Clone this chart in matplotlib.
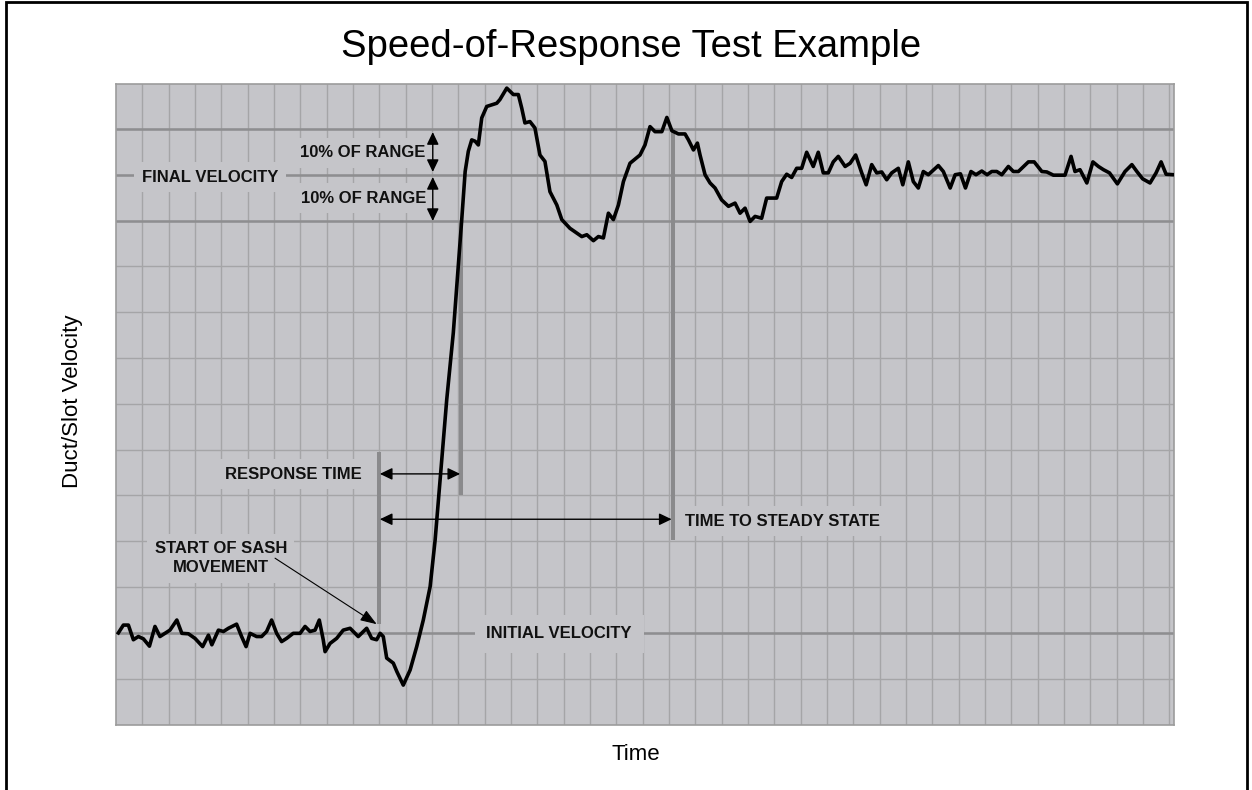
import matplotlib
matplotlib.use("Agg")
import matplotlib.pyplot as plt
from matplotlib.patches import Rectangle

# ---------------- data (grid units) ----------------
time = [0.09, 0.28, 0.47, 0.66, 0.85, 1.04, 1.27, 1.48, 1.67, 1.86,
        2.05, 2.31, 2.50, 2.75, 3.00, 3.29, 3.51, 3.64, 3.89, 4.08,
        4.27, 4.58, 4.77, 4.94, 5.09, 5.34, 5.53, 5.72, 5.91, 6.10,
        6.29, 6.48, 6.73, 6.99, 7.18, 7.37, 7.56, 7.72, 7.87, 7.94,
        8.13, 8.38, 8.63, 8.89, 9.20, 9.52, 9.71, 9.90, 10.03, 10.15,
        10.28, 10.53, 10.67, 10.91, 11.17, 11.42, 11.67, 11.93, 12.12, 12.31,
        12.56, 12.81, 13.00, 13.13, 13.26, 13.38, 13.51, 13.64, 13.76, 13.89,
        14.08, 14.46, 14.58, 14.84, 15.09, 15.28, 15.41, 15.53, 15.72, 15.91,
        16.10, 16.29, 16.48, 16.74, 16.93, 17.24, 17.69, 17.88, 18.13, 18.32,
        18.51, 18.70, 18.89, 19.08, 19.27, 19.52, 19.90, 20.09, 20.28, 20.47,
        20.73, 20.92, 21.11, 21.36, 21.61, 21.74, 21.93, 22.08, 22.18, 22.37,
        22.56, 22.75, 23.00, 23.26, 23.51, 23.70, 23.89, 24.08, 24.27, 24.52,
        24.71, 25.09, 25.28, 25.47, 25.66, 25.85, 26.04, 26.23, 26.48, 26.67,
        26.86, 27.05, 27.24, 27.43, 27.69, 27.88, 28.09, 28.32, 28.49, 28.70,
        28.89, 29.08, 29.27, 29.46, 29.71, 29.88, 30.09, 30.28, 30.47, 30.66,
        30.85, 31.23, 31.42, 31.68, 31.87, 32.07, 32.26, 32.47, 32.66, 32.88,
        33.08, 33.26, 33.45, 33.64, 33.89, 34.08, 34.27, 34.65, 34.87, 35.16,
        35.35, 35.60, 36.04, 36.27, 36.42, 36.61, 36.87, 37.10, 37.31, 37.50,
        37.73, 38.03, 38.32, 38.58, 38.77, 38.99, 39.27, 39.50, 39.69, 39.88,
        40.16]

velocity = [2.00, 2.17, 2.17, 1.85, 1.92, 1.87, 1.71, 2.14, 1.92, 1.99,
            2.06, 2.28, 1.99, 1.98, 1.88, 1.70, 1.95, 1.74, 2.06, 2.03,
            2.10, 2.19, 1.92, 1.70, 1.99, 1.92, 1.92, 2.03, 2.28, 1.99,
            1.81, 1.88, 1.99, 1.99, 2.14, 2.03, 2.06, 2.28, 1.85, 1.59,
            1.77, 1.88, 2.06, 2.10, 1.92, 2.10, 1.88, 1.85, 1.99, 1.92,
            1.45, 1.34, 1.15, 0.86, 1.19, 1.70, 2.28, 3.01, 4.03, 5.34,
            7.09, 8.55, 10.00, 11.02, 12.07, 12.51, 12.76, 12.73, 12.65, 13.24,
            13.49, 13.56, 13.64, 13.89, 13.75, 13.75, 13.45, 13.13, 13.16, 13.02,
            12.43, 12.29, 11.63, 11.34, 11.02, 10.83, 10.65, 10.69, 10.56, 10.65,
            10.62, 11.16, 11.02, 11.34, 11.85, 12.25, 12.43, 12.65, 13.05, 12.94,
            12.94, 13.25, 12.96, 12.89, 12.89, 12.76, 12.54, 12.69, 12.43, 12.00,
            11.82, 11.71, 11.45, 11.31, 11.38, 11.16, 11.27, 10.98, 11.09, 11.05,
            11.49, 11.49, 11.85, 12.01, 11.94, 12.14, 12.14, 12.49, 12.18, 12.49,
            12.04, 12.04, 12.28, 12.40, 12.18, 12.25, 12.43, 12.04, 11.78, 12.22,
            12.04, 12.06, 11.89, 12.04, 12.14, 11.78, 12.28, 11.85, 11.71, 12.07,
            12.00, 12.20, 12.07, 11.71, 12.00, 12.02, 11.71, 12.07, 12.00, 12.08,
            12.00, 12.07, 12.07, 12.00, 12.18, 12.07, 12.07, 12.28, 12.28, 12.07,
            12.06, 11.99, 11.99, 12.40, 12.07, 12.11, 11.82, 12.28, 12.18, 12.11,
            12.04, 11.80, 12.07, 12.22, 12.07, 11.91, 11.82, 12.04, 12.28, 12.01,
            12.00]

initial_velocity = 2.0
final_velocity = 12.0
band = 1.0                 # 10 % of range
sash_start = 10.0
response_end = 13.1
steady_state = 21.15

title = "Speed-of-Response Test Example"
x_label = "Time"
y_label = "Duct/Slot Velocity"

# ---------------- figure ----------------
W, H = 1252, 790
fig = plt.figure(figsize=(W / 100, H / 100), dpi=100)
fig.patch.set_facecolor("white")

left, right, top, bottom = 116, 1174, 84, 724.5
ax = fig.add_axes([left / W, 1 - bottom / H, (right - left) / W, (bottom - top) / H])
bg = "#c5c5c9"
ax.set_facecolor(bg)
ax.set_xlim(0, 40.18)
ax.set_ylim(0, 13.98)
ax.set_xticks(range(1, 41))
ax.set_yticks(range(1, 14))
ax.tick_params(length=0, labelbottom=False, labelleft=False)
ax.grid(True, color="#a5a5a7", lw=1.0)
for sp in ax.spines.values():
    sp.set_color("#9c9c9c")
    sp.set_linewidth(1.2)

ref_col = "#8e8e90"
for yv in (initial_velocity, final_velocity - band, final_velocity, final_velocity + band):
    ax.axhline(yv, color=ref_col, lw=1.8, zorder=1.8)

# vertical markers
mk = "#8a8a8c"
ax.vlines(sash_start, 2.2, 5.95, color=mk, lw=2.9, zorder=2)
ax.vlines(response_end, 5.0, 11.0, color=mk, lw=2.9, zorder=2)
ax.vlines(steady_state, 4.03, 12.95, color=mk, lw=2.9, zorder=2)

# curve
ax.plot(time, velocity, color="black", lw=2.6, solid_joinstyle="round", zorder=4)

FONT = ["Liberation Sans", "DejaVu Sans"]
lab = dict(fontsize=12, fontweight="bold", family=FONT, color="#111111",
           ha="center", va="center", zorder=3)


def boxed(x, y, s, pad=0.45, **kw):
    d = dict(lab)
    d.update(kw)
    ax.text(x, y, s, bbox=dict(boxstyle=f"square,pad={pad}", fc=bg, ec="none"), **d)


boxed(3.57, final_velocity - 0.06, "FINAL VELOCITY")
boxed(9.36, 12.48, "10% OF RANGE")
boxed(9.40, 11.49, "10% OF RANGE")
boxed(6.75, 5.46, "RESPONSE TIME")
boxed(3.98, 3.63, "START OF SASH\nMOVEMENT", linespacing=1.35)
boxed(16.83, initial_velocity - 0.02, "INITIAL VELOCITY", pad=0.7)
boxed(21.62, 4.44, "TIME TO STEADY STATE", ha="left")


def darrow(x0, y0, x1, y1, style="<|-|>", lw=1.0, hl=0.75, hw=0.36):
    ax.annotate("", xy=(x1, y1), xytext=(x0, y0), zorder=5,
                arrowprops=dict(arrowstyle=f"{style},head_length={hl},head_width={hw}",
                                color="black", lw=lw, shrinkA=0, shrinkB=0,
                                mutation_scale=10))


arrow_x = 12.03
darrow(arrow_x, 12.06, arrow_x, 12.93)
darrow(arrow_x, 10.99, arrow_x, 11.95)
darrow(sash_start + 0.02, 5.47, response_end - 0.03, 5.47)
darrow(sash_start + 0.02, 4.48, steady_state - 0.05, 4.48)
darrow(6.04, 3.63, 9.90, 2.19, style="-|>", lw=0.8, hl=1.0, hw=0.36)

# titles and axis labels
fig.text(631 / W, 1 - 47 / H, title, ha="center", va="center", fontsize=27.5,
         family=FONT, color="black")
fig.text(635.5 / W, 1 - 755 / H, x_label, ha="center", va="center", fontsize=16,
         family=FONT, color="black")
fig.text(72.7 / W, 1 - 400.8 / H, y_label, ha="center", va="center", fontsize=16,
         rotation=90, family=FONT, color="black")

# outer frame
fig.patches.append(Rectangle((6 / W, -0.02), (1247 - 6) / W, (1 - 2 / H) + 0.02,
                             transform=fig.transFigure, fill=False, ec="black", lw=2.0))

fig.savefig("out.png", dpi=100, facecolor="white")
